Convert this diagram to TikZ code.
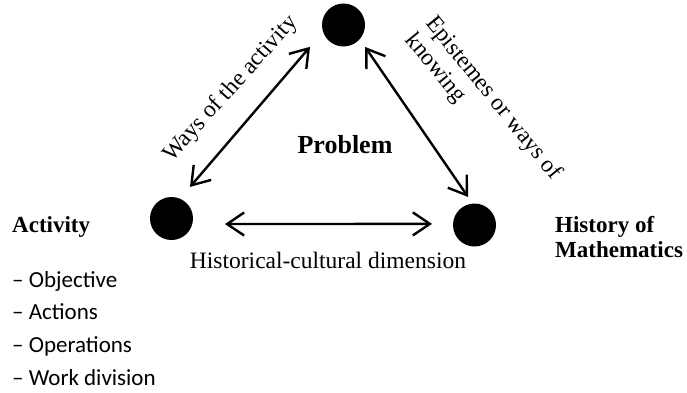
\documentclass[tikz,border=0pt]{standalone}
\usepackage{fontspec}
\setmainfont{Liberation Serif}
\newfontfamily\listfont{Carlito}
\usetikzlibrary{arrows.meta}
\tikzset{
  dot/.style={circle,fill=black,minimum size=43pt,inner sep=0pt,outer sep=0pt},
  twoway/.style={{Straight Barb[length=17pt,width=23pt]}-{Straight Barb[length=17pt,width=23pt]},line width=2.4pt},
  lbl/.style={font=\fontsize{23.5}{26}\selectfont,inner sep=0pt},
  head/.style={font=\fontsize{23}{25}\selectfont\bfseries,inner sep=0pt,align=left},
  listitem/.style={font=\listfont\fontsize{23}{26}\selectfont,inner sep=0pt,anchor=base west}
}
\begin{document}
\begin{tikzpicture}[x=1pt,y=1pt]
  \useasboundingbox (0,0) rectangle (687,392);
  % the three poles
  \node [dot] (prob) at (343.5,367) {};
  \node [dot] (act) at (171.5,173.5) {};
  \node [dot] (hist) at (474.5,167) {};
  % links between them
  \draw [twoway,shorten <=15.5pt,shorten >=20pt] (act.67) -- (prob.198);
  \draw [twoway,shorten <=9.5pt,shorten >=8pt] (prob.319) -- (hist.95);
  \draw [twoway,shorten <=32.7pt,shorten >=21pt] (act.-15) -- (hist.177);
  % labels
  \node [lbl,rotate=48] (ways) at (231,303) {Ways of the activity};
  \node [lbl,rotate=-51,align=left,anchor=north west] (epist) at (438,379) {Epistemes or ways of\\knowing};
  \node [lbl,anchor=base] (histcult) at (328,124) {Historical-cultural dimension};
  \node [head,font=\fontsize{26}{28}\selectfont\bfseries,anchor=base] (problbl) at (345,239) {Problem};
  \node [head,anchor=base west] (actlbl) at (12,160) {Activity};
  \node [head,anchor=north west] (histlbl) at (555,176) {History of\\Mathematics};
  \foreach \txt [count=\i from 0] in {Objective,Actions,Operations,Work division}
    \node [listitem] (item\i) at (12,105-32.67*\i) {– \txt};
\end{tikzpicture}
\end{document}
